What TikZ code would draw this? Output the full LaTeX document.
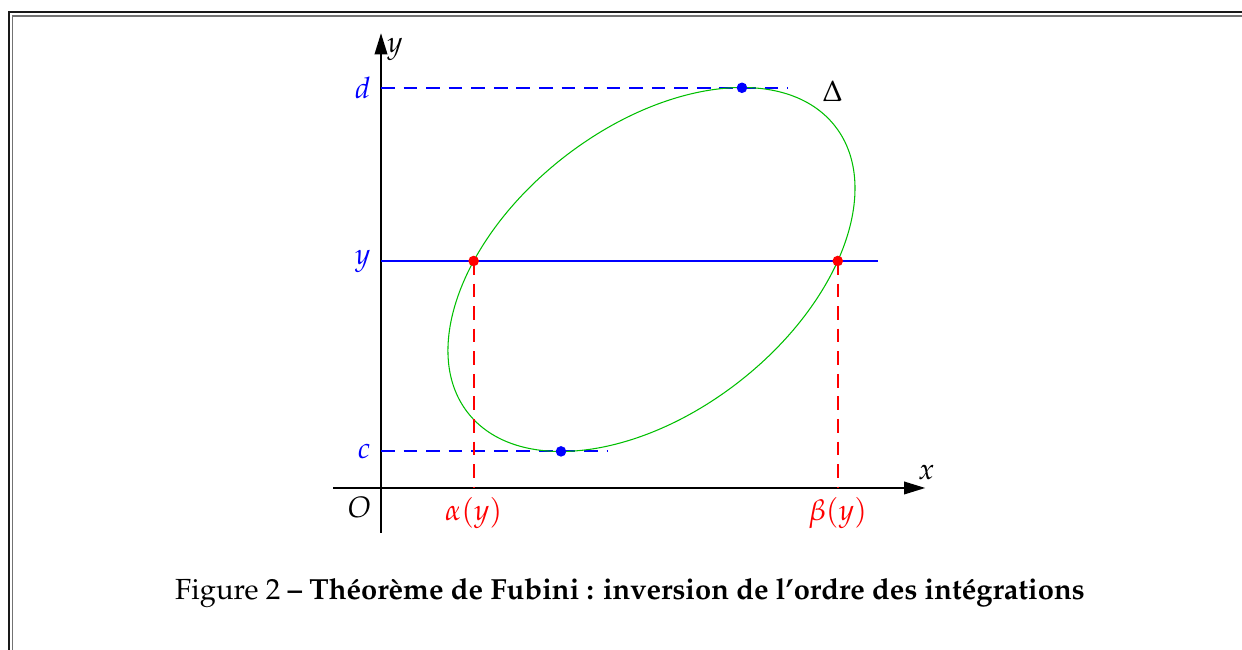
\documentclass[tikz,border=0pt]{standalone}
\usepackage[T1]{fontenc}
\usepackage{mathpazo}
\usetikzlibrary{arrows.meta,intersections,calc}
\tikzset{
    axe/.style={line width=0.7pt, -{Triangle[length=10pt,width=6pt]}},
    courbe/.style={green!75!black, line width=0.5pt},
    horiz/.style={blue, line width=0.65pt},
    tirets/.style={draw=#1, dash pattern=on 6.5pt off 4.2pt, line width=0.9pt},
    point/.style={circle, fill, inner sep=0pt, minimum size=5pt},
    etiq/.style={font=\fontsize{14}{17}\selectfont}
}

\begin{document}
\begin{tikzpicture}
\useasboundingbox (-6.35,-2.7) rectangle (14.35,8.133);
% cadre double
\draw[black!90, line width=0.95pt] (-6.208,-2.7) -- (-6.208,7.933) -- (14.35,7.933);
\draw[black!55, line width=0.7pt] (-6.142,-2.7) -- (-6.142,7.867) -- (14.35,7.867);

% axes
\coordinate (O) at (0,0);
\coordinate (xdeb) at (-0.8,0);
\coordinate (xfin) at (9.07,0);
\coordinate (ydeb) at (0,-0.75);
\coordinate (yfin) at (0,7.58);
\draw[axe] (xdeb) -- (xfin);
\draw[axe] (ydeb) -- (yfin);
\node[etiq] (lx) at ($(xfin)+(0.02,0.25)$) {$x$};
\node[etiq, right] (ly) at ($(yfin)+(-0.02,-0.27)$) {$y$};
\node[etiq] (lO) at (-0.36,-0.32) {$O$};

% niveaux c, y, d
\coordinate (C) at (4.508,3.642);
\coordinate (hd) at (6.016,6.67);
\coordinate (hc) at (3.0,0.61);
\coordinate (ya) at (0,3.783);
\coordinate (yb) at (8.283,3.783);
\coordinate (da) at (0,6.67);
\coordinate (db) at (6.78,6.67);
\coordinate (ca) at (0,0.61);
\coordinate (cb) at (3.77,0.61);
\draw[tirets=blue] (da) -- (db);
\draw[tirets=blue] (ca) -- (cb);
\node[etiq, text=blue, left=1.5pt] (ld) at (da) {$d$};
\node[etiq, text=blue, left=1.5pt] (lc) at (ca) {$c$};
\node[etiq, text=blue, left=1.5pt] (lyy) at (ya) {$y$};

% le domaine
\draw[courbe, name path=ell, rotate around={37.94:(C)}] (C) ellipse (3.882 and 2.373);
\draw[horiz, name path=hor] (ya) -- (yb);
\path[name intersections={of=ell and hor, by={A,B}, sort by=hor}];
\node[etiq] (lD) at (7.525,6.61) {$\Delta$};

% alpha(y), beta(y)
\draw[tirets=red] (A) -- (A |- O);
\draw[tirets=red] (B) -- (B |- O);
\node[etiq, text=red, below=1pt] (la) at (A |- O) {$\alpha(y)$};
\node[etiq, text=red, below=1pt] (lb) at (B |- O) {$\beta(y)$};

\node[point, red] at (A) {};
\node[point, red] at (B) {};
\node[point, blue] at (hd) {};
\node[point, blue] at (hc) {};

% legende
\node[font=\fontsize{13.8}{16}\selectfont] (leg) at (4.15,-1.75)
  {Figure 2 \textbf{-- Th\'eor\`eme de Fubini : inversion de l'ordre des int\'egrations}};
\end{tikzpicture}
\end{document}
